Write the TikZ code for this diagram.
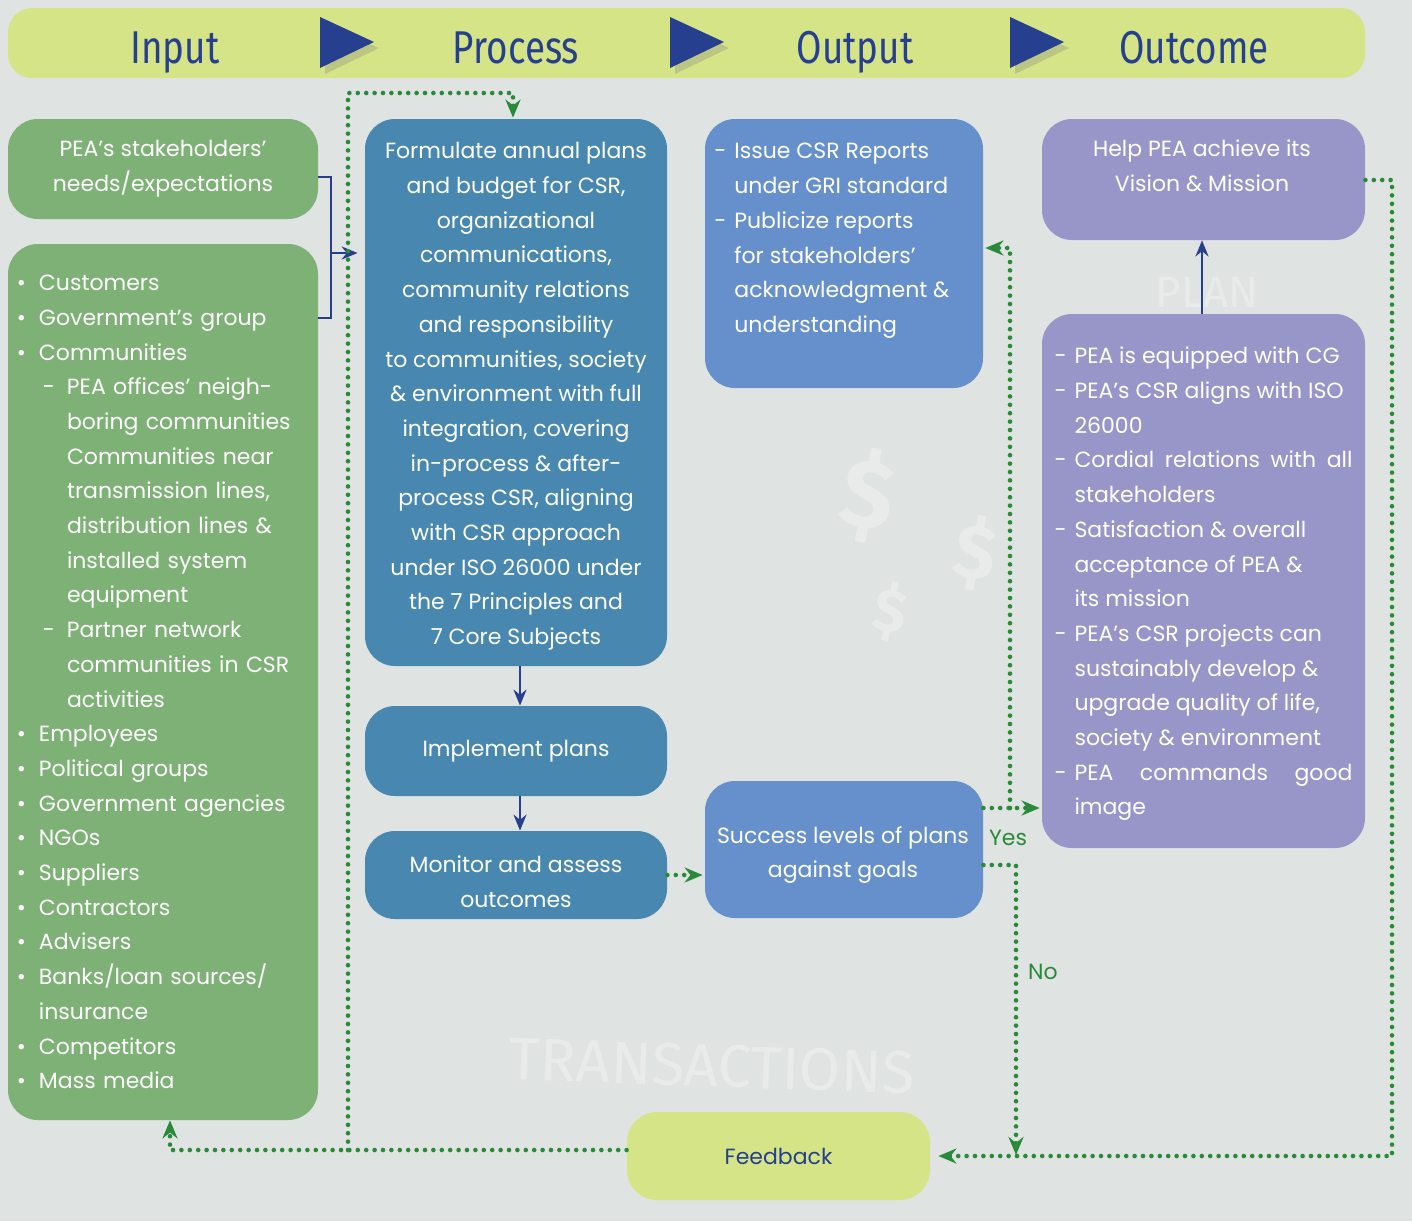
\documentclass[tikz,border=0pt]{standalone}
\usepackage{fontspec}
\setmainfont{Poppins}
\newfontfamily\headfont{Fira Sans}
\usetikzlibrary{arrows.meta,shadows}

\definecolor{paper}{HTML}{DFE3E2}
\definecolor{lime}{HTML}{D5E487}
\definecolor{navy}{HTML}{263F8E}
\definecolor{leaf}{HTML}{7EB176}
\definecolor{steel}{HTML}{4888B0}
\definecolor{sky}{HTML}{6690CB}
\definecolor{lilac}{HTML}{9896C9}
\definecolor{forest}{HTML}{2A8A3A}

\newcommand{\boxfont}{\fontsize{11}{17.35}\selectfont}
\newcommand{\itm}[1]{\makebox[11pt][l]{\textbullet}#1}
\newcommand{\subitm}[1]{\hspace*{13pt}\makebox[12pt][l]{-}#1}
\newcommand{\subcont}[1]{\hspace*{25pt}#1}
\newcommand{\dashitm}[1]{\makebox[10pt][l]{-}#1}
\newcommand{\dashcont}[1]{\hspace*{10pt}#1}
\newcommand{\fullline}[1]{\makebox[139pt][s]{#1}}

\begin{document}
\begin{tikzpicture}[x=0.5pt, y=-0.5pt]
    \tikzstyle{box} = [rectangle, rounded corners=15pt, inner sep=0pt, text=white, align=center, font=\boxfont]
    \tikzstyle{boxtext} = [inner sep=0pt, text=white, font=\boxfont]
    \tikzstyle{title} = [text=navy, anchor=base, font=\headfont\fontsize{23}{23}\selectfont]
    \tikzstyle{doodle} = [text=white, text opacity=0.3, inner sep=0pt]
    \tikzstyle{fb} = [forest, line width=2.3pt, line cap=round, dash pattern=on 0pt off 4.2pt,
        -{Stealth[length=9pt, width=7.5pt]}]
    \tikzstyle{flow} = [navy, line width=1.2pt, -{Stealth[length=8pt, width=6.5pt]}]

    % Page
    \useasboundingbox (0,0) rectangle (1412,1221);
    \fill[paper] (0,0) rectangle (1412,1221);

    % Faint sketches behind the boxes
    \node[doodle, font=\headfont\fontsize{30}{30}\selectfont, rotate=-2] (sktrans) at (712,1066) {TRANSACTIONS};
    \node[doodle, font=\headfont\bfseries\fontsize{48}{48}\selectfont, rotate=-10] (skdollara) at (868,495) {\$};
    \node[doodle, font=\headfont\bfseries\fontsize{38}{38}\selectfont, rotate=-10] (skdollarb) at (975,553) {\$};
    \node[doodle, font=\headfont\bfseries\fontsize{30}{30}\selectfont, rotate=-10] (skdollarc) at (890,612) {\$};
    \node[doodle, font=\headfont\fontsize{22}{22}\selectfont] (skplan) at (1207,292) {PLAN};

    % Header band
    \node[rectangle, rounded corners=12pt, fill=lime, minimum width=678.5pt, minimum height=35pt, inner sep=0pt] (header) at (686.5,43) {};
    \foreach \x in {320,670,1010} {
        \fill[navy, drop shadow={opacity=0.3, shadow xshift=2.5pt, shadow yshift=-3pt}] (\x,17) -- (\x+54,42) -- (\x,68) -- cycle;
    }
    \node[title] (tinput) at (175,63) {\scalebox{0.8}[1]{Input}};
    \node[title] (tprocess) at (516,63) {\scalebox{0.8}[1]{Process}};
    \node[title] (toutput) at (855,63) {\scalebox{0.8}[1]{Output}};
    \node[title] (toutcome) at (1194,63) {\scalebox{0.8}[1]{Outcome}};

    % Input
    \node[box, fill=leaf, minimum width=155pt, minimum height=50pt] (needs) at (163,169)
        {PEA’s stakeholders’\\needs/expectations};
    \node[box, fill=leaf, minimum width=155pt, minimum height=438pt, align=left, text width=146pt] (groups) at (163,682) {%
        \itm{Customers}\\
        \itm{Government’s group}\\
        \itm{Communities}\\
        \subitm{PEA offices’ neigh-}\\
        \subcont{boring communities}\\
        \subcont{Communities near}\\
        \subcont{transmission lines,}\\
        \subcont{distribution lines \&}\\
        \subcont{installed system}\\
        \subcont{equipment}\\
        \subitm{Partner network}\\
        \subcont{communities in CSR}\\
        \subcont{activities}\\
        \itm{Employees}\\
        \itm{Political groups}\\
        \itm{Government agencies}\\
        \itm{NGOs}\\
        \itm{Suppliers}\\
        \itm{Contractors}\\
        \itm{Advisers}\\
        \itm{Banks/loan sources/}\\
        \hspace*{11pt}insurance\\
        \itm{Competitors}\\
        \itm{Mass media}};

    % Process
    \node[box, fill=steel, minimum width=151pt, minimum height=273.5pt] (plan) at (516,392.5) {};
    \node[boxtext, align=center] (plantext) at (516,396.5) {%
        Formulate annual plans\\
        and budget for CSR,\\
        organizational\\
        communications,\\
        community relations\\
        and responsibility\\
        to communities, society\\
        \& environment with full\\
        integration, covering\\
        in-process \& after-\\
        process CSR, aligning\\
        with CSR approach\\
        under ISO 26000 under\\
        the 7 Principles and\\
        7 Core Subjects};
    \node[box, fill=steel, minimum width=151pt, minimum height=45pt] (implement) at (516,751) {Implement plans};
    \node[box, fill=steel, minimum width=151pt, minimum height=44pt] (monitor) at (516,875) {};
    \node[boxtext, align=center] (monitortext) at (516,882) {Monitor and assess\\outcomes};

    % Output
    \node[box, fill=sky, minimum width=139pt, minimum height=134.5pt] (report) at (844,253.5) {};
    \node[boxtext, anchor=north west, align=left] (reporttext) at (714,143) {%
        \dashitm{Issue CSR Reports}\\
        \dashcont{under GRI standard}\\
        \dashitm{Publicize reports}\\
        \dashcont{for stakeholders’}\\
        \dashcont{acknowledgment \&}\\
        \dashcont{understanding}};
    \node[box, fill=sky, minimum width=139pt, minimum height=68.5pt] (success) at (844,849.5) {};
    \node[boxtext, align=center] (successtext) at (843,855) {Success levels of plans\\against goals};

    % Outcome
    \node[box, fill=lilac, minimum width=161.5pt, minimum height=60.5pt] (vision) at (1203.5,179.5) {};
    \node[boxtext, align=center] (visiontext) at (1202,166) {Help PEA achieve its\\Vision \& Mission};
    \node[box, fill=lilac, minimum width=161.5pt, minimum height=267pt] (results) at (1203.5,581) {};
    \node[boxtext, align=left] (resultstext) at (1203.5,584) {%
        \dashitm{PEA is equipped with CG}\\
        \dashitm{PEA’s CSR aligns with ISO}\\
        \dashcont{26000}\\
        \dashitm{\fullline{Cordial relations with all}}\\
        \dashcont{stakeholders}\\
        \dashitm{Satisfaction \& overall}\\
        \dashcont{acceptance of PEA \&}\\
        \dashcont{its mission}\\
        \dashitm{PEA’s CSR projects can}\\
        \dashcont{sustainably develop \&}\\
        \dashcont{upgrade quality of life,}\\
        \dashcont{society \& environment}\\
        \dashitm{\fullline{PEA commands good}}\\
        \dashcont{image}};

    % Feedback
    \node[box, fill=lime, text=navy, minimum width=151.5pt, minimum height=44pt] (feedback) at (778.5,1156) {Feedback};

    % Solid flow
    \coordinate (brtop) at (331,177);
    \coordinate (brbot) at (331,318);
    \coordinate (brmid) at (331,253);
    \draw[navy, line width=1.2pt] (needs.east |- brtop) -- (brtop) -- (brbot) -- (groups.east |- brbot);
    \draw[flow, shorten >=3.5pt] (brmid) -- (plan.west |- brmid);
    \draw[flow] (plan.south -| 520,0) -- (implement.north -| 520,0);
    \draw[flow] (implement.south -| 520,0) -- (monitor.north -| 520,0);
    \draw[flow] (results.north -| 1202,0) -- (vision.south -| 1202,0);

    % Dotted loops
    \coordinate (yesturn) at (1010,808);
    \coordinate (noturn) at (1016,865);
    \coordinate (rightturn) at (1392,180);
    \coordinate (backturn) at (170,1150);
    \coordinate (split) at (348,1150);
    \coordinate (topturn) at (348,93);
    \draw[fb, shorten >=1pt] (monitor.east) -- (monitor.east -| success.west);
    \draw[fb, shorten >=1pt] (success.east |- yesturn) -- (results.west |- yesturn);
    \draw[fb, shorten >=1pt] (yesturn) -- (yesturn |- 0,248) -- (report.east |- 0,248);
    \draw[fb] (success.east |- noturn) -- (noturn) -- (noturn |- 0,1155);
    \draw[fb, shorten >=4pt] (vision.east |- rightturn) -- (rightturn) -- (rightturn |- feedback.east) -- (feedback.east);
    \draw[fb] (feedback.west |- backturn) -- (backturn) -- (backturn |- groups.south);
    \draw[fb, shorten >=0.5pt] (split) -- (topturn) -- (topturn -| 513,0) -- (plan.north -| 513,0);
    \node[text=forest, font=\boxfont] (yes) at (1008,838) {Yes};
    \node[text=forest, font=\boxfont] (no) at (1043,972) {No};
\end{tikzpicture}
\end{document}
